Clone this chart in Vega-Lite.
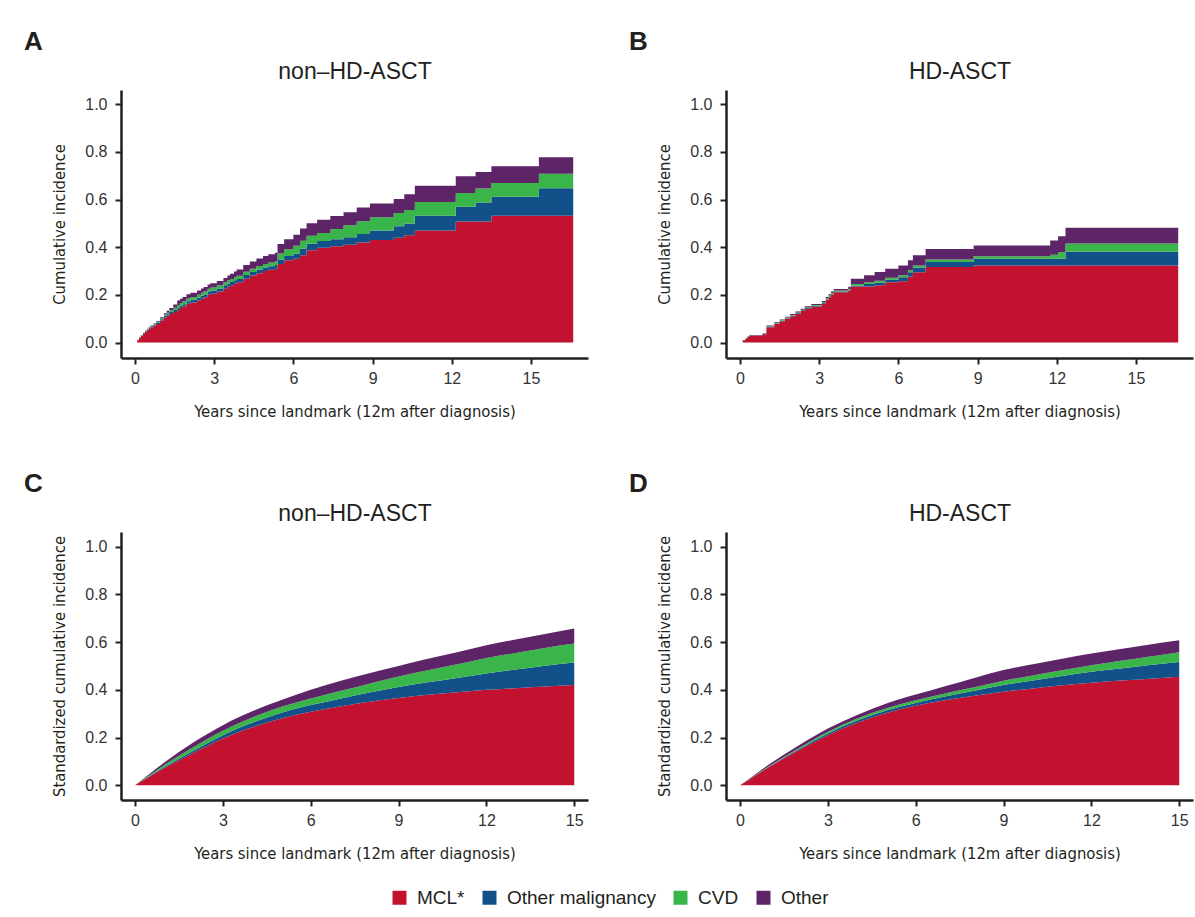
{
  "$schema": "https://vega.github.io/schema/vega-lite/v6.json",
  "background": "white",
  "padding": {"left": 24, "top": 29, "right": 3, "bottom": 8},
  "datasets": {
    "causes": [
      {"cause": "MCL*", "rank": 1},
      {"cause": "Other malignancy", "rank": 2},
      {"cause": "CVD", "rank": 3},
      {"cause": "Other", "rank": 4}
    ],
    "nonHD_observed": [
      {"year": 0, "MCL*": 0, "Other malignancy": 0, "CVD": 0, "Other": 0},
      {"year": 0.08, "MCL*": 0.009, "Other malignancy": 0.001, "CVD": 0.001, "Other": 0.001},
      {"year": 0.15, "MCL*": 0.018, "Other malignancy": 0.002, "CVD": 0.001, "Other": 0.001},
      {"year": 0.22, "MCL*": 0.027, "Other malignancy": 0.002, "CVD": 0.001, "Other": 0.001},
      {"year": 0.3, "MCL*": 0.036, "Other malignancy": 0.003, "CVD": 0.001, "Other": 0.001},
      {"year": 0.38, "MCL*": 0.044, "Other malignancy": 0.003, "CVD": 0.001, "Other": 0.001},
      {"year": 0.45, "MCL*": 0.052, "Other malignancy": 0.003, "CVD": 0.002, "Other": 0.001},
      {"year": 0.52, "MCL*": 0.058, "Other malignancy": 0.004, "CVD": 0.002, "Other": 0.002},
      {"year": 0.6, "MCL*": 0.064, "Other malignancy": 0.004, "CVD": 0.002, "Other": 0.002},
      {"year": 0.7, "MCL*": 0.071, "Other malignancy": 0.005, "CVD": 0.003, "Other": 0.002},
      {"year": 0.8, "MCL*": 0.078, "Other malignancy": 0.005, "CVD": 0.003, "Other": 0.003},
      {"year": 0.95, "MCL*": 0.092, "Other malignancy": 0.006, "CVD": 0.004, "Other": 0.004},
      {"year": 1.1, "MCL*": 0.105, "Other malignancy": 0.007, "CVD": 0.005, "Other": 0.006},
      {"year": 1.2, "MCL*": 0.112, "Other malignancy": 0.007, "CVD": 0.006, "Other": 0.008},
      {"year": 1.3, "MCL*": 0.12, "Other malignancy": 0.008, "CVD": 0.007, "Other": 0.01},
      {"year": 1.45, "MCL*": 0.128, "Other malignancy": 0.008, "CVD": 0.01, "Other": 0.014},
      {"year": 1.6, "MCL*": 0.137, "Other malignancy": 0.009, "CVD": 0.012, "Other": 0.018},
      {"year": 1.7, "MCL*": 0.145, "Other malignancy": 0.009, "CVD": 0.012, "Other": 0.018},
      {"year": 1.8, "MCL*": 0.152, "Other malignancy": 0.009, "CVD": 0.012, "Other": 0.018},
      {"year": 1.95, "MCL*": 0.163, "Other malignancy": 0.01, "CVD": 0.012, "Other": 0.018},
      {"year": 2.1, "MCL*": 0.168, "Other malignancy": 0.011, "CVD": 0.012, "Other": 0.018},
      {"year": 2.35, "MCL*": 0.176, "Other malignancy": 0.012, "CVD": 0.012, "Other": 0.018},
      {"year": 2.5, "MCL*": 0.184, "Other malignancy": 0.012, "CVD": 0.013, "Other": 0.018},
      {"year": 2.6, "MCL*": 0.19, "Other malignancy": 0.012, "CVD": 0.013, "Other": 0.018},
      {"year": 2.75, "MCL*": 0.2, "Other malignancy": 0.013, "CVD": 0.013, "Other": 0.018},
      {"year": 2.85, "MCL*": 0.205, "Other malignancy": 0.013, "CVD": 0.013, "Other": 0.018},
      {"year": 3.1, "MCL*": 0.214, "Other malignancy": 0.013, "CVD": 0.013, "Other": 0.018},
      {"year": 3.35, "MCL*": 0.226, "Other malignancy": 0.014, "CVD": 0.013, "Other": 0.018},
      {"year": 3.5, "MCL*": 0.234, "Other malignancy": 0.014, "CVD": 0.013, "Other": 0.02},
      {"year": 3.6, "MCL*": 0.24, "Other malignancy": 0.014, "CVD": 0.013, "Other": 0.022},
      {"year": 3.75, "MCL*": 0.247, "Other malignancy": 0.014, "CVD": 0.013, "Other": 0.024},
      {"year": 3.85, "MCL*": 0.253, "Other malignancy": 0.014, "CVD": 0.013, "Other": 0.026},
      {"year": 4.1, "MCL*": 0.268, "Other malignancy": 0.015, "CVD": 0.014, "Other": 0.028},
      {"year": 4.35, "MCL*": 0.281, "Other malignancy": 0.015, "CVD": 0.014, "Other": 0.03},
      {"year": 4.6, "MCL*": 0.291, "Other malignancy": 0.015, "CVD": 0.015, "Other": 0.032},
      {"year": 4.85, "MCL*": 0.3, "Other malignancy": 0.015, "CVD": 0.015, "Other": 0.033},
      {"year": 5.05, "MCL*": 0.305, "Other malignancy": 0.015, "CVD": 0.016, "Other": 0.035},
      {"year": 5.3, "MCL*": 0.31, "Other malignancy": 0.015, "CVD": 0.016, "Other": 0.036},
      {"year": 5.4, "MCL*": 0.33, "Other malignancy": 0.018, "CVD": 0.026, "Other": 0.04},
      {"year": 5.65, "MCL*": 0.345, "Other malignancy": 0.018, "CVD": 0.028, "Other": 0.042},
      {"year": 6.0, "MCL*": 0.352, "Other malignancy": 0.022, "CVD": 0.032, "Other": 0.046},
      {"year": 6.25, "MCL*": 0.366, "Other malignancy": 0.028, "CVD": 0.033, "Other": 0.052},
      {"year": 6.5, "MCL*": 0.387, "Other malignancy": 0.028, "CVD": 0.033, "Other": 0.053},
      {"year": 6.9, "MCL*": 0.398, "Other malignancy": 0.028, "CVD": 0.034, "Other": 0.055},
      {"year": 7.4, "MCL*": 0.404, "Other malignancy": 0.03, "CVD": 0.042, "Other": 0.055},
      {"year": 7.9, "MCL*": 0.41, "Other malignancy": 0.032, "CVD": 0.05, "Other": 0.055},
      {"year": 8.4, "MCL*": 0.42, "Other malignancy": 0.035, "CVD": 0.054, "Other": 0.058},
      {"year": 8.9, "MCL*": 0.43, "Other malignancy": 0.04, "CVD": 0.056, "Other": 0.058},
      {"year": 9.8, "MCL*": 0.44, "Other malignancy": 0.048, "CVD": 0.056, "Other": 0.058},
      {"year": 10.2, "MCL*": 0.45, "Other malignancy": 0.05, "CVD": 0.056, "Other": 0.066},
      {"year": 10.6, "MCL*": 0.47, "Other malignancy": 0.062, "CVD": 0.058, "Other": 0.068},
      {"year": 12.15, "MCL*": 0.508, "Other malignancy": 0.062, "CVD": 0.058, "Other": 0.07},
      {"year": 12.9, "MCL*": 0.508, "Other malignancy": 0.08, "CVD": 0.058, "Other": 0.07},
      {"year": 13.5, "MCL*": 0.532, "Other malignancy": 0.08, "CVD": 0.058, "Other": 0.07},
      {"year": 15.3, "MCL*": 0.532, "Other malignancy": 0.116, "CVD": 0.06, "Other": 0.07},
      {"year": 16.6, "MCL*": 0.532, "Other malignancy": 0.116, "CVD": 0.06, "Other": 0.07}
    ],
    "HD_observed": [
      {"year": 0, "MCL*": 0, "Other malignancy": 0, "CVD": 0, "Other": 0},
      {"year": 0.1, "MCL*": 0.008, "Other malignancy": 0.001, "CVD": 0.001, "Other": 0.001},
      {"year": 0.2, "MCL*": 0.016, "Other malignancy": 0.001, "CVD": 0.001, "Other": 0.001},
      {"year": 0.28, "MCL*": 0.023, "Other malignancy": 0.001, "CVD": 0.001, "Other": 0.001},
      {"year": 0.35, "MCL*": 0.029, "Other malignancy": 0.001, "CVD": 0.001, "Other": 0.001},
      {"year": 0.85, "MCL*": 0.035, "Other malignancy": 0.001, "CVD": 0.001, "Other": 0.002},
      {"year": 1.0, "MCL*": 0.064, "Other malignancy": 0.002, "CVD": 0.002, "Other": 0.003},
      {"year": 1.3, "MCL*": 0.078, "Other malignancy": 0.002, "CVD": 0.002, "Other": 0.003},
      {"year": 1.5, "MCL*": 0.089, "Other malignancy": 0.002, "CVD": 0.003, "Other": 0.003},
      {"year": 1.7, "MCL*": 0.1, "Other malignancy": 0.002, "CVD": 0.003, "Other": 0.003},
      {"year": 1.9, "MCL*": 0.11, "Other malignancy": 0.003, "CVD": 0.003, "Other": 0.004},
      {"year": 2.1, "MCL*": 0.12, "Other malignancy": 0.003, "CVD": 0.003, "Other": 0.004},
      {"year": 2.3, "MCL*": 0.132, "Other malignancy": 0.003, "CVD": 0.003, "Other": 0.004},
      {"year": 2.45, "MCL*": 0.142, "Other malignancy": 0.003, "CVD": 0.003, "Other": 0.004},
      {"year": 2.7, "MCL*": 0.151, "Other malignancy": 0.003, "CVD": 0.003, "Other": 0.005},
      {"year": 3.1, "MCL*": 0.163, "Other malignancy": 0.003, "CVD": 0.003, "Other": 0.005},
      {"year": 3.25, "MCL*": 0.178, "Other malignancy": 0.003, "CVD": 0.004, "Other": 0.006},
      {"year": 3.35, "MCL*": 0.19, "Other malignancy": 0.003, "CVD": 0.004, "Other": 0.006},
      {"year": 3.45, "MCL*": 0.2, "Other malignancy": 0.003, "CVD": 0.004, "Other": 0.007},
      {"year": 3.55, "MCL*": 0.211, "Other malignancy": 0.003, "CVD": 0.004, "Other": 0.007},
      {"year": 4.1, "MCL*": 0.218, "Other malignancy": 0.003, "CVD": 0.004, "Other": 0.009},
      {"year": 4.2, "MCL*": 0.235, "Other malignancy": 0.004, "CVD": 0.007, "Other": 0.022},
      {"year": 4.7, "MCL*": 0.235, "Other malignancy": 0.011, "CVD": 0.007, "Other": 0.029},
      {"year": 5.1, "MCL*": 0.24, "Other malignancy": 0.011, "CVD": 0.008, "Other": 0.037},
      {"year": 5.5, "MCL*": 0.253, "Other malignancy": 0.011, "CVD": 0.008, "Other": 0.038},
      {"year": 6.0, "MCL*": 0.257, "Other malignancy": 0.017, "CVD": 0.008, "Other": 0.041},
      {"year": 6.36, "MCL*": 0.277, "Other malignancy": 0.018, "CVD": 0.008, "Other": 0.042},
      {"year": 6.55, "MCL*": 0.295, "Other malignancy": 0.02, "CVD": 0.008, "Other": 0.043},
      {"year": 7.03, "MCL*": 0.317, "Other malignancy": 0.021, "CVD": 0.01, "Other": 0.045},
      {"year": 8.85, "MCL*": 0.323, "Other malignancy": 0.029, "CVD": 0.01, "Other": 0.045},
      {"year": 11.75, "MCL*": 0.323, "Other malignancy": 0.029, "CVD": 0.016, "Other": 0.06},
      {"year": 12.05, "MCL*": 0.323, "Other malignancy": 0.029, "CVD": 0.028, "Other": 0.066},
      {"year": 12.33, "MCL*": 0.3235, "Other malignancy": 0.057, "CVD": 0.035, "Other": 0.066},
      {"year": 16.6, "MCL*": 0.3235, "Other malignancy": 0.057, "CVD": 0.035, "Other": 0.066}
    ],
    "nonHD_standardized": [
      {"year": 0, "MCL*": 0, "Other malignancy": 0, "CVD": 0, "Other": 0},
      {"year": 0.5, "MCL*": 0.037, "Other malignancy": 0.002, "CVD": 0.004, "Other": 0.005},
      {"year": 1, "MCL*": 0.072, "Other malignancy": 0.004, "CVD": 0.009, "Other": 0.01},
      {"year": 2, "MCL*": 0.136, "Other malignancy": 0.009, "CVD": 0.015, "Other": 0.02},
      {"year": 3, "MCL*": 0.196, "Other malignancy": 0.014, "CVD": 0.018, "Other": 0.024},
      {"year": 4, "MCL*": 0.243, "Other malignancy": 0.019, "CVD": 0.022, "Other": 0.026},
      {"year": 5, "MCL*": 0.28, "Other malignancy": 0.024, "CVD": 0.025, "Other": 0.028},
      {"year": 6, "MCL*": 0.308, "Other malignancy": 0.028, "CVD": 0.028, "Other": 0.036},
      {"year": 7, "MCL*": 0.33, "Other malignancy": 0.033, "CVD": 0.032, "Other": 0.042},
      {"year": 8, "MCL*": 0.35, "Other malignancy": 0.039, "CVD": 0.037, "Other": 0.044},
      {"year": 9, "MCL*": 0.366, "Other malignancy": 0.046, "CVD": 0.044, "Other": 0.044},
      {"year": 10, "MCL*": 0.379, "Other malignancy": 0.053, "CVD": 0.05, "Other": 0.048},
      {"year": 11, "MCL*": 0.39, "Other malignancy": 0.06, "CVD": 0.057, "Other": 0.051},
      {"year": 12, "MCL*": 0.4, "Other malignancy": 0.069, "CVD": 0.065, "Other": 0.053},
      {"year": 13, "MCL*": 0.407, "Other malignancy": 0.078, "CVD": 0.07, "Other": 0.056},
      {"year": 14, "MCL*": 0.414, "Other malignancy": 0.087, "CVD": 0.075, "Other": 0.058},
      {"year": 15, "MCL*": 0.42, "Other malignancy": 0.095, "CVD": 0.079, "Other": 0.063}
    ],
    "HD_standardized": [
      {"year": 0, "MCL*": 0, "Other malignancy": 0, "CVD": 0, "Other": 0},
      {"year": 0.5, "MCL*": 0.039, "Other malignancy": 0.001, "CVD": 0.001, "Other": 0.003},
      {"year": 1, "MCL*": 0.077, "Other malignancy": 0.002, "CVD": 0.002, "Other": 0.007},
      {"year": 2, "MCL*": 0.147, "Other malignancy": 0.004, "CVD": 0.004, "Other": 0.012},
      {"year": 3, "MCL*": 0.21, "Other malignancy": 0.007, "CVD": 0.007, "Other": 0.014},
      {"year": 4, "MCL*": 0.262, "Other malignancy": 0.009, "CVD": 0.009, "Other": 0.015},
      {"year": 5, "MCL*": 0.303, "Other malignancy": 0.01, "CVD": 0.01, "Other": 0.02},
      {"year": 6, "MCL*": 0.333, "Other malignancy": 0.012, "CVD": 0.011, "Other": 0.024},
      {"year": 7, "MCL*": 0.356, "Other malignancy": 0.016, "CVD": 0.013, "Other": 0.03},
      {"year": 8, "MCL*": 0.375, "Other malignancy": 0.021, "CVD": 0.015, "Other": 0.039},
      {"year": 9, "MCL*": 0.392, "Other malignancy": 0.028, "CVD": 0.018, "Other": 0.045},
      {"year": 10, "MCL*": 0.406, "Other malignancy": 0.033, "CVD": 0.021, "Other": 0.047},
      {"year": 11, "MCL*": 0.419, "Other malignancy": 0.039, "CVD": 0.024, "Other": 0.048},
      {"year": 12, "MCL*": 0.43, "Other malignancy": 0.046, "CVD": 0.027, "Other": 0.049},
      {"year": 13, "MCL*": 0.439, "Other malignancy": 0.051, "CVD": 0.032, "Other": 0.049},
      {"year": 14, "MCL*": 0.447, "Other malignancy": 0.057, "CVD": 0.036, "Other": 0.05},
      {"year": 15, "MCL*": 0.455, "Other malignancy": 0.062, "CVD": 0.041, "Other": 0.05}
    ]
  },
  "columns": 2,
  "spacing": {"row": 174, "column": 138},
  "bounds": "flush",
  "concat": [
    {
      "title": {"text": "A"},
      "width": 467, "height": 268,
      "data": {"name": "nonHD_observed"},
      "transform": [
        {"fold": ["MCL*", "Other malignancy", "CVD", "Other"], "as": ["cause", "value"]},
        {"lookup": "cause", "from": {"data": {"name": "causes"}, "key": "cause", "fields": ["rank"]}}
      ],
      "resolve": {"axis": {"x": "independent"}},
      "layer": [
        {
          "mark": {"type": "area", "interpolate": "step-after", "opacity": 1},
          "encoding": {
            "x": {"field": "year", "type": "quantitative", "scale": {"domain": [-0.53, 17.16], "nice": false, "zero": false}, "axis": {"values": [0, 3, 6, 9, 12, 15], "title": "Years since landmark (12m after diagnosis)"}},
            "y": {"field": "value", "type": "quantitative", "stack": "zero", "scale": {"domain": [-0.065, 1.06], "nice": false, "zero": false}, "axis": {"values": [0, 0.2, 0.4, 0.6, 0.8, 1], "format": ".1f", "title": "Cumulative incidence"}},
            "color": {"field": "cause", "type": "nominal", "scale": {"domain": ["MCL*", "Other malignancy", "CVD", "Other"], "range": ["#C3122F", "#12508A", "#3AB54A", "#5D2468"]}, "legend": {"title": null}},
            "order": {"field": "rank", "type": "quantitative"}
          }
        },
        {
          "mark": {"type": "rule", "opacity": 0},
          "encoding": {
            "x": {"field": "year", "type": "quantitative", "scale": {"domain": [-0.53, 17.16], "nice": false, "zero": false}, "axis": {"orient": "top", "title": "non–HD-ASCT", "labels": false, "ticks": false, "domain": false, "titleFont": "Liberation Sans", "titleFontSize": 23, "titlePadding": 7}}
          }
        }
      ]
    },
    {
      "title": {"text": "B"},
      "width": 467, "height": 268,
      "data": {"name": "HD_observed"},
      "transform": [
        {"fold": ["MCL*", "Other malignancy", "CVD", "Other"], "as": ["cause", "value"]},
        {"lookup": "cause", "from": {"data": {"name": "causes"}, "key": "cause", "fields": ["rank"]}}
      ],
      "resolve": {"axis": {"x": "independent"}},
      "layer": [
        {
          "mark": {"type": "area", "interpolate": "step-after", "opacity": 1},
          "encoding": {
            "x": {"field": "year", "type": "quantitative", "scale": {"domain": [-0.53, 17.16], "nice": false, "zero": false}, "axis": {"values": [0, 3, 6, 9, 12, 15], "title": "Years since landmark (12m after diagnosis)"}},
            "y": {"field": "value", "type": "quantitative", "stack": "zero", "scale": {"domain": [-0.065, 1.06], "nice": false, "zero": false}, "axis": {"values": [0, 0.2, 0.4, 0.6, 0.8, 1], "format": ".1f", "title": "Cumulative incidence"}},
            "color": {"field": "cause", "type": "nominal", "scale": {"domain": ["MCL*", "Other malignancy", "CVD", "Other"], "range": ["#C3122F", "#12508A", "#3AB54A", "#5D2468"]}, "legend": {"title": null}},
            "order": {"field": "rank", "type": "quantitative"}
          }
        },
        {
          "mark": {"type": "rule", "opacity": 0},
          "encoding": {
            "x": {"field": "year", "type": "quantitative", "scale": {"domain": [-0.53, 17.16], "nice": false, "zero": false}, "axis": {"orient": "top", "title": "HD-ASCT", "labels": false, "ticks": false, "domain": false, "titleFont": "Liberation Sans", "titleFontSize": 23, "titlePadding": 7}}
          }
        }
      ]
    },
    {
      "title": {"text": "C"},
      "width": 467, "height": 268,
      "data": {"name": "nonHD_standardized"},
      "transform": [
        {"fold": ["MCL*", "Other malignancy", "CVD", "Other"], "as": ["cause", "value"]},
        {"lookup": "cause", "from": {"data": {"name": "causes"}, "key": "cause", "fields": ["rank"]}}
      ],
      "resolve": {"axis": {"x": "independent"}},
      "layer": [
        {
          "mark": {"type": "area", "interpolate": "monotone", "opacity": 1},
          "encoding": {
            "x": {"field": "year", "type": "quantitative", "scale": {"domain": [-0.48, 15.47], "nice": false, "zero": false}, "axis": {"values": [0, 3, 6, 9, 12, 15], "title": "Years since landmark (12m after diagnosis)"}},
            "y": {"field": "value", "type": "quantitative", "stack": "zero", "scale": {"domain": [-0.062, 1.062], "nice": false, "zero": false}, "axis": {"values": [0, 0.2, 0.4, 0.6, 0.8, 1], "format": ".1f", "title": "Standardized cumulative incidence"}},
            "color": {"field": "cause", "type": "nominal", "scale": {"domain": ["MCL*", "Other malignancy", "CVD", "Other"], "range": ["#C3122F", "#12508A", "#3AB54A", "#5D2468"]}, "legend": {"title": null}},
            "order": {"field": "rank", "type": "quantitative"}
          }
        },
        {
          "mark": {"type": "rule", "opacity": 0},
          "encoding": {
            "x": {"field": "year", "type": "quantitative", "scale": {"domain": [-0.48, 15.47], "nice": false, "zero": false}, "axis": {"orient": "top", "title": "non–HD-ASCT", "labels": false, "ticks": false, "domain": false, "titleFont": "Liberation Sans", "titleFontSize": 23, "titlePadding": 7}}
          }
        }
      ]
    },
    {
      "title": {"text": "D"},
      "width": 467, "height": 268,
      "data": {"name": "HD_standardized"},
      "transform": [
        {"fold": ["MCL*", "Other malignancy", "CVD", "Other"], "as": ["cause", "value"]},
        {"lookup": "cause", "from": {"data": {"name": "causes"}, "key": "cause", "fields": ["rank"]}}
      ],
      "resolve": {"axis": {"x": "independent"}},
      "layer": [
        {
          "mark": {"type": "area", "interpolate": "monotone", "opacity": 1},
          "encoding": {
            "x": {"field": "year", "type": "quantitative", "scale": {"domain": [-0.48, 15.47], "nice": false, "zero": false}, "axis": {"values": [0, 3, 6, 9, 12, 15], "title": "Years since landmark (12m after diagnosis)"}},
            "y": {"field": "value", "type": "quantitative", "stack": "zero", "scale": {"domain": [-0.062, 1.062], "nice": false, "zero": false}, "axis": {"values": [0, 0.2, 0.4, 0.6, 0.8, 1], "format": ".1f", "title": "Standardized cumulative incidence"}},
            "color": {"field": "cause", "type": "nominal", "scale": {"domain": ["MCL*", "Other malignancy", "CVD", "Other"], "range": ["#C3122F", "#12508A", "#3AB54A", "#5D2468"]}, "legend": {"title": null}},
            "order": {"field": "rank", "type": "quantitative"}
          }
        },
        {
          "mark": {"type": "rule", "opacity": 0},
          "encoding": {
            "x": {"field": "year", "type": "quantitative", "scale": {"domain": [-0.48, 15.47], "nice": false, "zero": false}, "axis": {"orient": "top", "title": "HD-ASCT", "labels": false, "ticks": false, "domain": false, "titleFont": "Liberation Sans", "titleFontSize": 23, "titlePadding": 7}}
          }
        }
      ]
    }
  ],
  "config": {
    "view": {"stroke": null},
    "font": "Liberation Sans",
    "axis": {
      "grid": false,
      "domainColor": "#231f20",
      "domainWidth": 2.5,
      "tickColor": "#231f20",
      "tickWidth": 2,
      "tickSize": 6,
      "labelFont": "Liberation Sans",
      "labelFontSize": 16,
      "labelColor": "#333333",
      "titleFont": "DejaVu Sans Condensed, sans-serif",
      "titleFontSize": 16.5,
      "titleFontWeight": "normal",
      "titleColor": "#231f20"
    },
    "axisX": {"labelPadding": 6, "titlePadding": 17},
    "axisY": {"labelPadding": 8, "titlePadding": 17},
    "title": {
      "anchor": "start",
      "frame": "group",
      "dx": -97,
      "offset": 5,
      "baseline": "alphabetic",
      "font": "Liberation Sans",
      "fontSize": 26,
      "fontWeight": "bold",
      "color": "#231f20"
    },
    "legend": {
      "orient": "none",
      "legendX": 269,
      "legendY": 798,
      "direction": "horizontal",
      "symbolType": "square",
      "symbolSize": 196,
      "symbolStrokeWidth": 0,
      "labelFont": "Liberation Sans",
      "labelFontSize": 19,
      "labelColor": "#231f20",
      "labelOffset": 8,
      "columnPadding": 15
    }
  }
}
